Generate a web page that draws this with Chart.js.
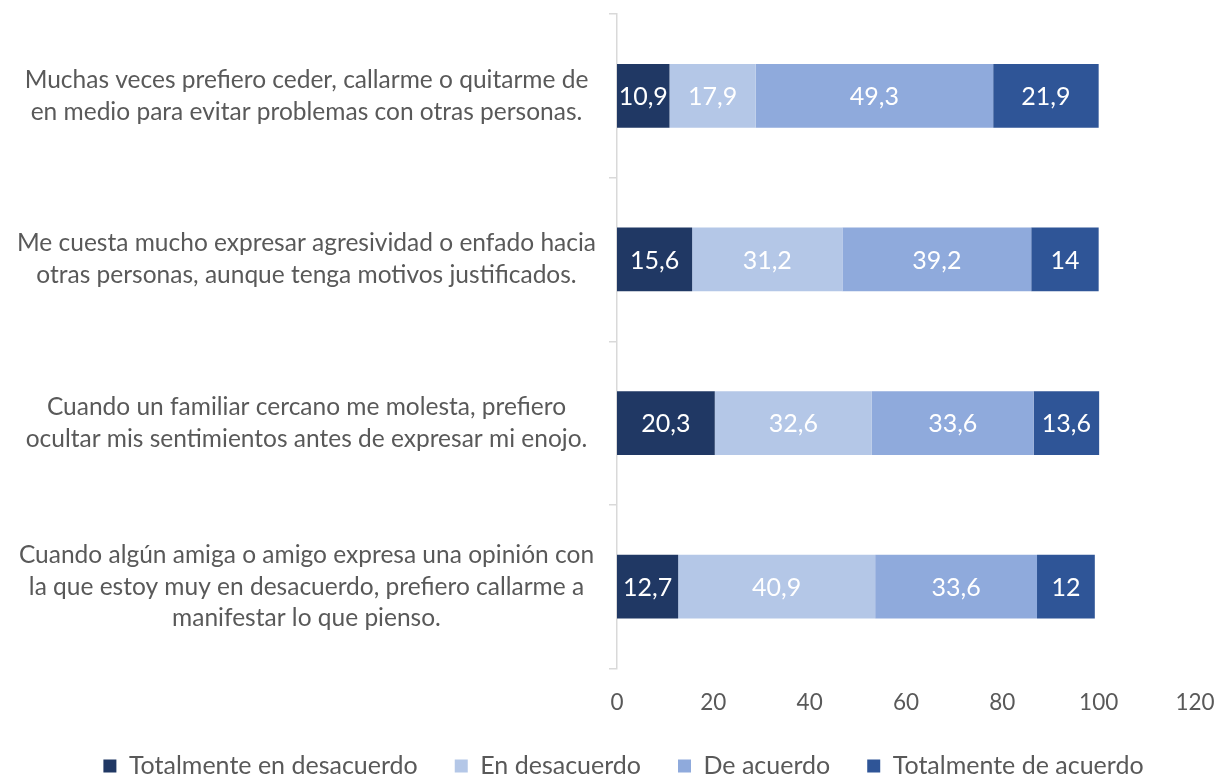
<!DOCTYPE html>
<html>
<head>
<meta charset="utf-8">
<script src="https://cdn.jsdelivr.net/npm/chart.js@4"></script>
<style>
  html, body { margin: 0; padding: 0; background: #fff; }
  #wrap { width: 1219px; height: 778px; }
</style>
</head>
<body>
<div id="wrap"><canvas id="chart" width="1219" height="778"></canvas></div>
<script>
// ---------- Data -------------------------------------------------------
const statements = [
  ["Muchas veces prefiero ceder, callarme o quitarme de", "en medio para evitar problemas con otras personas."],
  ["Me cuesta mucho expresar agresividad o enfado hacia", "otras personas, aunque tenga motivos justificados."],
  ["Cuando un familiar cercano me molesta, prefiero", "ocultar mis sentimientos antes de expresar mi enojo."],
  ["Cuando algún amiga o amigo expresa una opinión con", "la que estoy muy en desacuerdo, prefiero callarme a", "manifestar lo que pienso."],
];
const seriesNames = ["Totalmente en desacuerdo", "En desacuerdo", "De acuerdo", "Totalmente de acuerdo"];
const totDesacuerdo = [10.9, 15.6, 20.3, 12.7];
const enDesacuerdo  = [17.9, 31.2, 32.6, 40.9];
const deAcuerdo     = [49.3, 39.2, 33.6, 33.6];
const totAcuerdo    = [21.9, 14, 13.6, 12];
const xTicks = [0, 20, 40, 60, 80, 100, 120];

const COLORS = ["#203864", "#b4c7e7", "#8faadc", "#2f5597"];
const TEXT = "#595959";
const FONT = "Lato, 'Open Sans', sans-serif";

// ---------- Value labels inside segments -------------------------------
const valueLabels = {
  id: "valueLabels",
  afterDatasetsDraw(chart) {
    const ctx = chart.ctx;
    ctx.save();
    ctx.font = "25px " + FONT;
    ctx.fillStyle = "#ffffff";
    ctx.textAlign = "center";
    ctx.textBaseline = "middle";
    chart.data.datasets.forEach((ds, i) => {
      const meta = chart.getDatasetMeta(i);
      meta.data.forEach((el, j) => {
        const v = ds.data[j];
        ctx.fillText(String(v).replace(".", ","), (el.x + el.base) / 2, el.y + 1);
      });
    });
    ctx.restore();
  },
};

// nudge the legend a bit right, like the original
const legendNudge = {
  id: "legendNudge",
  afterLayout(chart) {
    chart.legend.left += 26;
    chart.legend.right += 26;
  },
};

const seriesData = [totDesacuerdo, enDesacuerdo, deAcuerdo, totAcuerdo];

new Chart(document.getElementById("chart"), {
  type: "bar",
  data: {
    labels: statements,
    datasets: seriesNames.map((name, i) => ({
      label: name,
      data: seriesData[i],
      backgroundColor: COLORS[i],
      borderWidth: 0,
      categoryPercentage: 1,
      barPercentage: 0.39,
    })),
  },
  options: {
    indexAxis: "y",
    responsive: false,
    animation: false,
    layout: { padding: { top: 14, right: 24, left: 0, bottom: -10.5 } },
    plugins: {
      legend: {
        position: "bottom",
        labels: {
          color: TEXT,
          font: { family: FONT, size: 25 },
          boxWidth: 13,
          boxHeight: 13,
          padding: 37,
        },
      },
      tooltip: { enabled: false },
    },
    scales: {
      x: {
        stacked: true,
        min: 0,
        max: 120,
        afterBuildTicks: s => { s.ticks = xTicks.map(v => ({ value: v })); },
        afterFit: s => { s.paddingLeft = 0; s.paddingRight = 0; s.height = 48; },
        grid: { display: false, drawTicks: false },
        border: { display: false },
        ticks: { color: TEXT, font: { family: FONT, size: 22.5 }, padding: 20.5 },
      },
      y: {
        stacked: true,
        afterFit: s => { s.width = 617; s.paddingTop = 0; s.paddingBottom = 0; },
        grid: { offset: true, drawOnChartArea: false, color: "#d9d9d9", tickLength: 8, lineWidth: 1.5 },
        border: { display: true, color: "#d9d9d9", width: 1.5 },
        ticks: {
          color: TEXT,
          font: { family: FONT, size: 24.5, lineHeight: 1.3 },
          crossAlign: "center",
          padding: 13,
        },
      },
    },
  },
  plugins: [valueLabels, legendNudge],
});
</script>
</body>
</html>
